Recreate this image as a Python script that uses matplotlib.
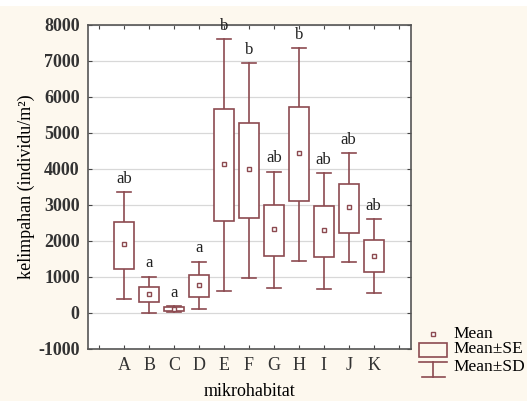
import matplotlib.pyplot as plt
from matplotlib.patches import Rectangle
import numpy as np

plt.rcParams['font.family'] = ['Liberation Serif', 'DejaVu Serif']
plt.rcParams['axes.unicode_minus'] = False

kategori = ['A', 'B', 'C', 'D', 'E', 'F', 'G', 'H', 'I', 'J', 'K']
mean = [1900, 520, 100, 780, 4140, 4000, 2330, 4440, 2300, 2940, 1580]
se_atas = [2520, 720, 150, 1060, 5670, 5280, 3000, 5720, 2970, 3580, 2030]
se_bawah = [1220, 300, 50, 450, 2560, 2640, 1580, 3110, 1560, 2230, 1140]
sd_atas = [3350, 1000, 180, 1420, 7600, 6940, 3920, 7360, 3880, 4440, 2610]
sd_bawah = [390, 0, 20, 110, 610, 980, 690, 1450, 670, 1420, 560]
huruf = ['ab', 'a', 'a', 'a', 'b', 'b', 'ab', 'b', 'ab', 'ab', 'ab']

warna = '#8c4a50'
fig = plt.figure(figsize=(5.27, 4.01), dpi=100)
fig.patch.set_facecolor('#fdf8ee')
fig.patches.append(Rectangle((0, 0.985), 1, 0.015, transform=fig.transFigure,
                             facecolor='white', edgecolor='none'))
ax = fig.add_axes([0.167, 0.130, 0.613, 0.808])
ax.set_facecolor('white')

x = np.arange(len(kategori))
lebar = 0.8
cap = 0.55
for i in range(len(kategori)):
    # whisker SD
    ax.plot([x[i], x[i]], [sd_bawah[i], se_bawah[i]], color=warna, lw=1.2, zorder=3)
    ax.plot([x[i], x[i]], [se_atas[i], sd_atas[i]], color=warna, lw=1.2, zorder=3)
    ax.plot([x[i] - cap / 2, x[i] + cap / 2], [sd_bawah[i]] * 2, color=warna, lw=1.2, zorder=3)
    ax.plot([x[i] - cap / 2, x[i] + cap / 2], [sd_atas[i]] * 2, color=warna, lw=1.2, zorder=3)
    # kotak SE
    ax.add_patch(Rectangle((x[i] - lebar / 2, se_bawah[i]), lebar, se_atas[i] - se_bawah[i],
                           facecolor='white', edgecolor=warna, lw=1.2, zorder=3))
    ax.plot(x[i], mean[i], marker='s', ms=3.5, mfc='white', mec=warna, mew=1.0, zorder=4)
    ax.text(x[i], sd_atas[i] + 150, huruf[i], ha='center', va='bottom', fontsize=12, color='#222222')

ax.set_xlim(-1.45, 11.5)
ax.set_ylim(-1000, 8000)
ax.set_yticks(np.arange(-1000, 8001, 1000))
ax.set_xticks(np.arange(-1, 12))
ax.set_xticklabels([''] + kategori + [''])
ax.grid(axis='y', color='#d8d8d8', lw=0.9)
ax.set_axisbelow(True)
ax.tick_params(direction='in', top=True, right=True, length=3, color='#444444',
               labelsize=13, pad=6, labelright=False, labeltop=False)
for s in ax.spines.values():
    s.set_color('#555555')
    s.set_linewidth(1.2)
for lbl in ax.get_yticklabels():
    lbl.set_fontweight('bold')
    lbl.set_color('#333333')
for lbl in ax.get_xticklabels():
    lbl.set_color('#333333')

ax.set_xlabel('mikrohabitat', fontsize=13, labelpad=6)
ax.set_ylabel('kelimpahan (individu/m²)', fontsize=13, labelpad=2)

# legenda
lg = fig.add_axes([0.78, 0.04, 0.22, 0.16])
lg.set_xlim(0, 117)
lg.set_ylim(65, 0)
lg.axis('off')
lg.plot(22, 13, marker='s', ms=3.5, mfc='white', mec=warna, mew=1.0)
lg.add_patch(Rectangle((8, 22), 28, 15, facecolor='none', edgecolor=warna, lw=1.2))
lg.plot([8, 36], [42, 42], color=warna, lw=1.2)
lg.plot([22, 22], [42, 57], color=warna, lw=1.2)
lg.plot([11, 34], [57, 57], color=warna, lw=1.2)
lg.text(43, 13, 'Mean', va='center', fontsize=12.5)
lg.text(43, 29, 'Mean±SE', va='center', fontsize=12.5)
lg.text(43, 47, 'Mean±SD', va='center', fontsize=12.5)

fig.savefig('out.png', dpi=100, facecolor=fig.get_facecolor())
